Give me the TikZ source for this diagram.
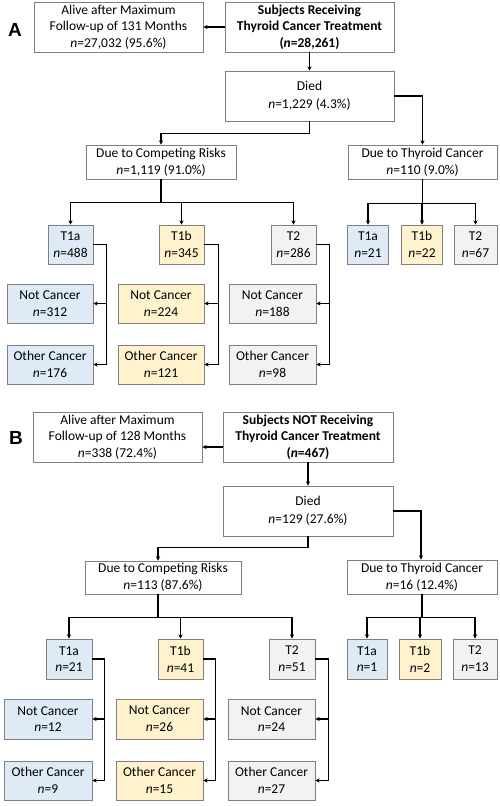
\documentclass[tikz,border=0pt]{standalone}
\usepackage{fontspec}
\setmainfont{Carlito}
\newfontfamily\panelfont{Liberation Sans}
\usetikzlibrary{arrows.meta}
\definecolor{bluef}{HTML}{DEEBF7}
\definecolor{yelf}{HTML}{FFF2CC}
\definecolor{grayf}{HTML}{F2F2F2}
\definecolor{bord}{HTML}{7F7F7F}
\begin{document}
\begin{tikzpicture}[x=1pt,y=-1pt,
  box/.style={draw=bord, line width=0.9pt, fill=white, align=center, inner sep=0pt,
    font=\fontsize{13.5}{16.7}\selectfont},
  wide/.style={font=\fontsize{13.5}{18.3}\selectfont},
  bold/.style={font=\fontsize{13.5}{16.7}\selectfont\bfseries},
  sz/.style 2 args={minimum width=#1pt, minimum height=#2pt},
  bl/.style={fill=bluef}, ye/.style={fill=yelf}, gr/.style={fill=grayf},
  ar/.style={line width=1.4pt, -{Stealth[length=4.2pt,width=4.2pt]}},
  lab/.style={font=\panelfont\fontsize{19}{22}\selectfont\bfseries, inner sep=0pt}]
\useasboundingbox (0,0) rectangle (500,806);
% ---------------- Panel A ----------------
\node[lab] (labA) at (15,30) {A};
\node[box,sz={169}{50}] (aliveA) at (118.5,27) {Alive after Maximum\\Follow-up of 131 Months\\\textit{n}=27,032 (95.6\%)};
\node[box,bold,sz={169}{50}] (subjA) at (309.5,27) {Subjects Receiving\\Thyroid Cancer Treatment\\(\textit{n}=28,261)};
\node[box,wide,sz={169}{50}] (diedA) at (309.5,96) {Died\\\textit{n}=1,229 (4.3\%)};
\node[box,sz={150}{34}] (compA) at (161,162) {Due to Competing Risks\\\textit{n}=1,119 (91.0\%)};
\node[box,sz={149}{34}] (thyA) at (422.5,162) {Due to Thyroid Cancer\\\textit{n}=110 (9.0\%)};
\node[box,bl,sz={45}{39}] (a1) at (70.5,244.5) {T1a\\\textit{n}=488};
\node[box,ye,sz={45}{39}] (a2) at (181.5,244.5) {T1b\\\textit{n}=345};
\node[box,gr,sz={45}{39}] (a3) at (293.5,244.5) {T2\\\textit{n}=286};
\node[box,bl,sz={86}{39}] (a1n) at (50,303.5) {Not Cancer\\\textit{n}=312};
\node[box,bl,sz={86}{39}] (a1o) at (50,364.5) {Other Cancer\\\textit{n}=176};
\node[box,ye,sz={86}{39}] (a2n) at (161,303.5) {Not Cancer\\\textit{n}=224};
\node[box,ye,sz={86}{39}] (a2o) at (161,364.5) {Other Cancer\\\textit{n}=121};
\node[box,gr,sz={87}{39}] (a3n) at (272.5,303.5) {Not Cancer\\\textit{n}=188};
\node[box,gr,sz={87}{39}] (a3o) at (272.5,364.5) {Other Cancer\\\textit{n}=98};
\node[box,bl,sz={41}{39}] (b1) at (368,244.5) {T1a\\\textit{n}=21};
\node[box,ye,sz={41}{39}] (b2) at (422,244.5) {T1b\\\textit{n}=22};
\node[box,gr,sz={43}{39}] (b3) at (475.5,244.5) {T2\\\textit{n}=67};
\draw[ar] (subjA.west) -- (aliveA.east);
\draw[ar] (subjA.south) -- (diedA.north);
\draw[ar] (diedA.south) -- ++(0,12) -| (compA.north);
\draw[ar] (diedA.east) -| (thyA.north);
\draw[ar] (compA.south) -- ++(0,23) -| (a1.north);
\draw[ar] (compA.south) -- ++(0,23) -| (a2.north);
\draw[ar] (compA.south) -- ++(0,23) -| (a3.north);
\draw[ar] (thyA.south) -- ++(0,24) -| (b1.north);
\draw[ar] (thyA.south) -- ++(0,24) -| (b2.north);
\draw[ar] (thyA.south) -- ++(0,24) -| (b3.north);
\draw[ar] (a1.east) -- ++(13,0) |- (a1n.east);
\draw[ar] (a1.east) -- ++(13,0) |- (a1o.east);
\draw[ar] (a2.east) -- ++(14,0) |- (a2n.east);
\draw[ar] (a2.east) -- ++(14,0) |- (a2o.east);
\draw[ar] (a3.east) -- ++(13,0) |- (a3n.east);
\draw[ar] (a3.east) -- ++(13,0) |- (a3o.east);
% ---------------- Panel B ----------------
\node[lab] (labB) at (16,438) {B};
\node[box,sz={169}{50}] (aliveB) at (117.5,437) {Alive after Maximum\\Follow-up of 128 Months\\\textit{n}=338 (72.4\%)};
\node[box,bold,sz={170}{50}] (subjB) at (308,437) {Subjects NOT Receiving\\Thyroid Cancer Treatment\\(\textit{n}=467)};
\node[box,wide,sz={170}{50}] (diedB) at (308,511) {Died\\\textit{n}=129 (27.6\%)};
\node[box,sz={156}{33}] (compB) at (163,577.5) {Due to Competing Risks\\\textit{n}=113 (87.6\%)};
\node[box,sz={150}{34}] (thyB) at (422,577) {Due to Thyroid Cancer\\\textit{n}=16 (12.4\%)};
\node[box,bl,sz={46}{40}] (c1) at (69,659) {T1a\\\textit{n}=21};
\node[box,ye,sz={45}{40}] (c2) at (180.5,659) {T1b\\\textit{n}=41};
\node[box,gr,sz={46}{40}] (c3) at (292,659) {T2\\\textit{n}=51};
\node[box,bl,sz={88}{40}] (c1n) at (48,719) {Not Cancer\\\textit{n}=12};
\node[box,bl,sz={88}{39}] (c1o) at (48,780.5) {Other Cancer\\\textit{n}=9};
\node[box,ye,sz={87}{40}] (c2n) at (159.5,719) {Not Cancer\\\textit{n}=26};
\node[box,ye,sz={87}{39}] (c2o) at (159.5,780.5) {Other Cancer\\\textit{n}=15};
\node[box,gr,sz={87}{40}] (c3n) at (271.5,719) {Not Cancer\\\textit{n}=24};
\node[box,gr,sz={87}{39}] (c3o) at (271.5,780.5) {Other Cancer\\\textit{n}=27};
\node[box,bl,sz={40}{40}] (d1) at (367,659) {T1a\\\textit{n}=1};
\node[box,ye,sz={42}{40}] (d2) at (420,659) {T1b\\\textit{n}=2};
\node[box,gr,sz={44}{40}] (d3) at (475,659) {T2\\\textit{n}=13};
\draw[ar] ([yshift=-10pt]subjB.west) -- ([yshift=-10pt]aliveB.east);
\draw[ar] (subjB.south) -- (diedB.north);
\draw[ar] (diedB.south) -- ++(0,11) -| ([xshift=-5pt]compB.north);
\draw[ar] (diedB.east) -| ([xshift=-1pt]thyB.north);
\draw[ar] ([xshift=-5pt]compB.south) -- ++(0,23) -| (c1.north);
\draw[ar] ([xshift=-5pt]compB.south) -- ++(0,23) -| (c2.north);
\draw[ar] ([xshift=-5pt]compB.south) -- ++(0,23) -| (c3.north);
\draw[ar] (thyB.south) -- ++(0,23) -| (d1.north);
\draw[ar] (thyB.south) -- ++(0,23) -| (d2.north);
\draw[ar] (thyB.south) -- ++(0,23) -| (d3.north);
\draw[ar] (c1.east) -- ++(12,0) |- (c1n.east);
\draw[ar] (c1.east) -- ++(12,0) |- (c1o.east);
\draw[ar] (c2.east) -- ++(12,0) |- (c2n.east);
\draw[ar] (c2.east) -- ++(12,0) |- (c2o.east);
\draw[ar] (c3.east) -- ++(13,0) |- (c3n.east);
\draw[ar] (c3.east) -- ++(13,0) |- (c3o.east);
\end{tikzpicture}
\end{document}
